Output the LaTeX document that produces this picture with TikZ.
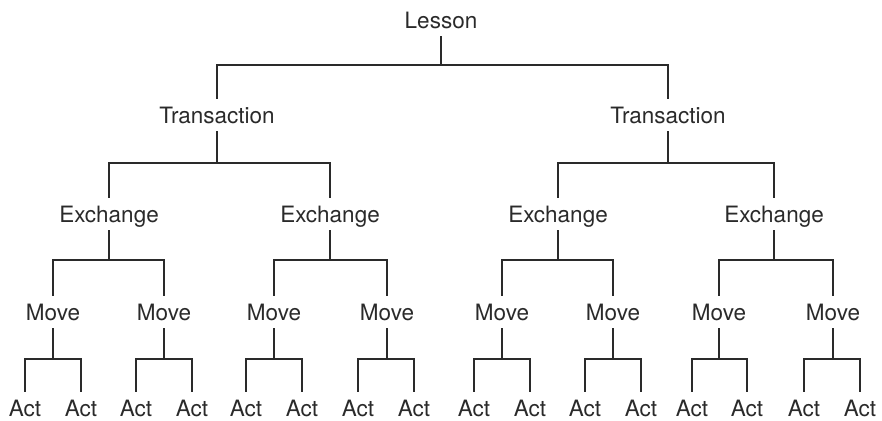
\documentclass[tikz,border=0pt]{standalone}
\usepackage{fontspec}
\setmainfont{TeX Gyre Heros}
\usepackage{xcolor}
\definecolor{ink}{HTML}{2A2A2A}

\begin{document}
\begin{tikzpicture}[x=1pt,y=1pt,
	unit/.style={text=ink, inner xsep=0pt, inner ysep=8pt, text height=16.2pt, text depth=0pt, font=\fontsize{22.5}{27}\selectfont},
	link/.style={draw=ink, line width=1.4pt}]
	\useasboundingbox (0,0) rectangle (882,420);
	% rank nodes
	\node[unit] (les) at (441,400) {Lesson};
	\node[unit] (trl) at (217,305) {Transaction};
	\node[unit] (trr) at (668,305) {Transaction};
	\node[unit] (ex1) at (109,206) {Exchange};
	\node[unit] (ex2) at (330,206) {Exchange};
	\node[unit] (ex3) at (558,206) {Exchange};
	\node[unit] (ex4) at (774,206) {Exchange};
	\node[unit] (mv1) at (53,108) {Move};
	\node[unit] (mv2) at (164,108) {Move};
	\node[unit] (mv3) at (274,108) {Move};
	\node[unit] (mv4) at (387,108) {Move};
	\node[unit] (mv5) at (502,108) {Move};
	\node[unit] (mv6) at (613,108) {Move};
	\node[unit] (mv7) at (719,108) {Move};
	\node[unit] (mv8) at (833,108) {Move};
	\node[unit] (ac1) at (25,12) {Act};
	\node[unit] (ac2) at (81,12) {Act};
	\node[unit] (ac3) at (136,12) {Act};
	\node[unit] (ac4) at (192,12) {Act};
	\node[unit] (ac5) at (246,12) {Act};
	\node[unit] (ac6) at (302,12) {Act};
	\node[unit] (ac7) at (358,12) {Act};
	\node[unit] (ac8) at (414,12) {Act};
	\node[unit] (ac9) at (474,12) {Act};
	\node[unit] (ac10) at (530,12) {Act};
	\node[unit] (ac11) at (585,12) {Act};
	\node[unit] (ac12) at (641,12) {Act};
	\node[unit] (ac13) at (692,12) {Act};
	\node[unit] (ac14) at (747,12) {Act};
	\node[unit] (ac15) at (804,12) {Act};
	\node[unit] (ac16) at (860,12) {Act};
	% bars
	\coordinate (bles) at (441,355);
	\coordinate (btrl) at (217,257);
	\coordinate (btrr) at (668,257);
	\coordinate (bex1) at (109,160);
	\coordinate (bex2) at (330,160);
	\coordinate (bex3) at (558,160);
	\coordinate (bex4) at (774,160);
	\coordinate (bmv1) at (53,61);
	\coordinate (bmv2) at (164,61);
	\coordinate (bmv3) at (274,61);
	\coordinate (bmv4) at (387,61);
	\coordinate (bmv5) at (502,61);
	\coordinate (bmv6) at (613,61);
	\coordinate (bmv7) at (719,61);
	\coordinate (bmv8) at (833,61);
	% branches
	\draw[link] (les.south) -- (bles) (trl.north) |- (bles) -| (trr.north);
	\draw[link] (trl.south) -- (btrl) (ex1.north) |- (btrl) -| (ex2.north);
	\draw[link] (trr.south) -- (btrr) (ex3.north) |- (btrr) -| (ex4.north);
	\draw[link] (ex1.south) -- (bex1) (mv1.north) |- (bex1) -| (mv2.north);
	\draw[link] (ex2.south) -- (bex2) (mv3.north) |- (bex2) -| (mv4.north);
	\draw[link] (ex3.south) -- (bex3) (mv5.north) |- (bex3) -| (mv6.north);
	\draw[link] (ex4.south) -- (bex4) (mv7.north) |- (bex4) -| (mv8.north);
	\draw[link] (mv1.south) -- (bmv1) (ac1.north) |- (bmv1) -| (ac2.north);
	\draw[link] (mv2.south) -- (bmv2) (ac3.north) |- (bmv2) -| (ac4.north);
	\draw[link] (mv3.south) -- (bmv3) (ac5.north) |- (bmv3) -| (ac6.north);
	\draw[link] (mv4.south) -- (bmv4) (ac7.north) |- (bmv4) -| (ac8.north);
	\draw[link] (mv5.south) -- (bmv5) (ac9.north) |- (bmv5) -| (ac10.north);
	\draw[link] (mv6.south) -- (bmv6) (ac11.north) |- (bmv6) -| (ac12.north);
	\draw[link] (mv7.south) -- (bmv7) (ac13.north) |- (bmv7) -| (ac14.north);
	\draw[link] (mv8.south) -- (bmv8) (ac15.north) |- (bmv8) -| (ac16.north);
\end{tikzpicture}
\end{document}
